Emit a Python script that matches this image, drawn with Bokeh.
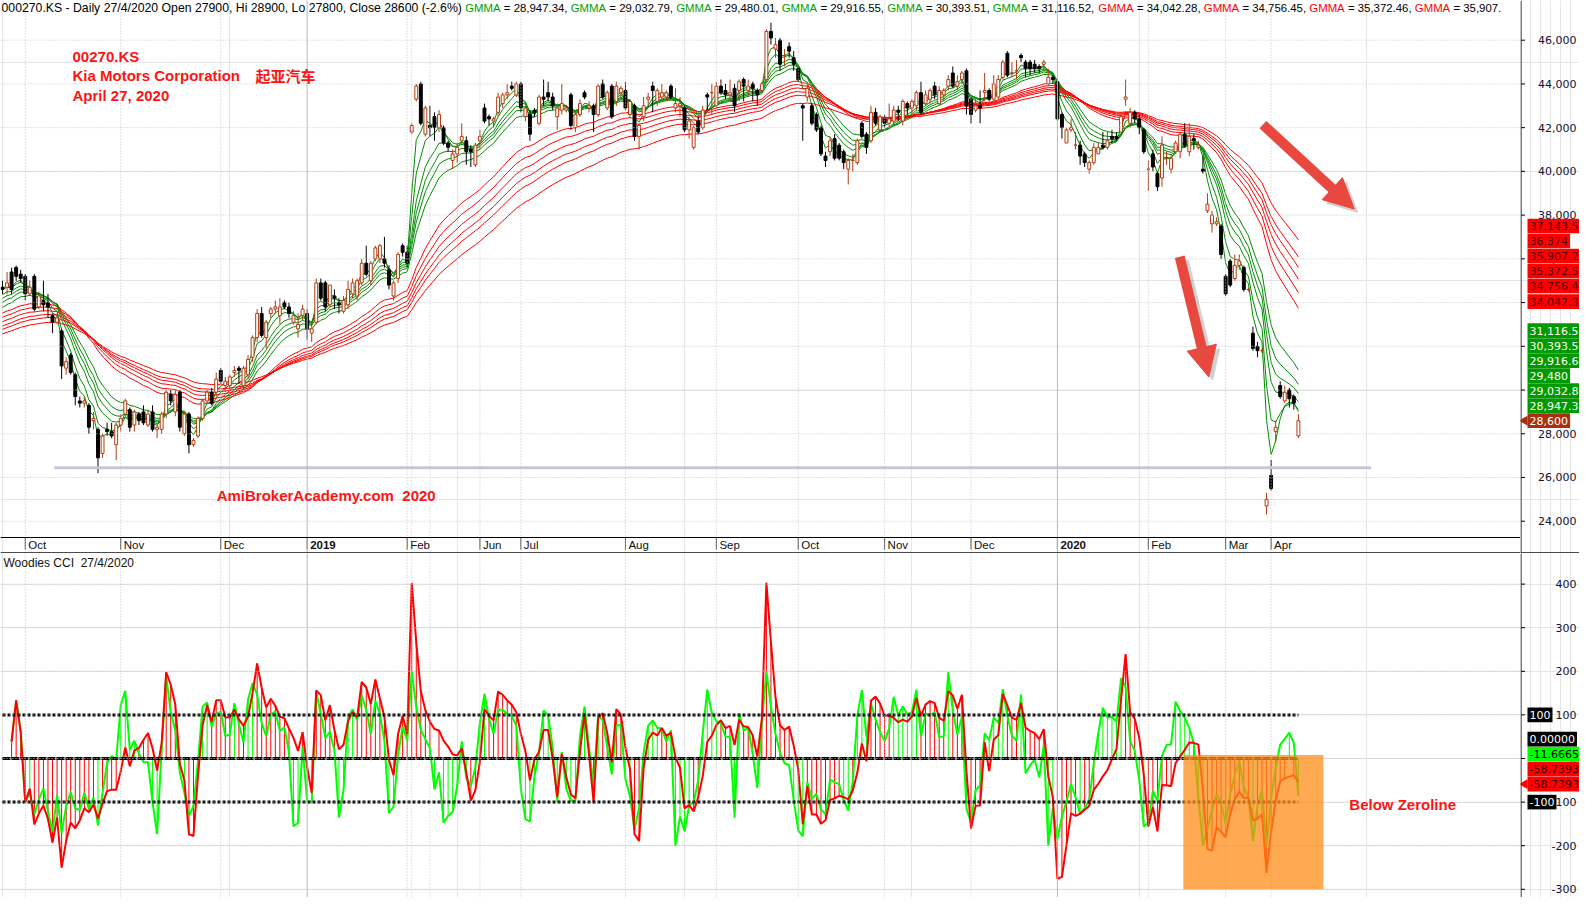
import numpy as np
from bokeh.plotting import figure
from bokeh.layouts import column, row
from bokeh.core.properties import value
from bokeh.models import (Range1d, Span, Label, BoxAnnotation, Arrow, NormalHead,
                          ColumnDataSource)
from bokeh.embed import file_html
from bokeh.resources import INLINE

# ---------------- data: daily OHLC of 000270.KS, in hundreds of KRW ----------------
opens = [347,347,354,356,353,352,344,352,338,341, 340,334,331,327,310,316,307,295,294,293,
         286,282,271,282,281,275,284,289,291,284, 289,290,284,290,282,282,289,298,290,299,
         280,289,275,279,287,295,299,299,309,302, 302,308,310,302,307,315,324,335,324,335,
         337,334,340,338,331,328,334,335,326,331, 349,349,339,343,340,336,339,344,343,349,
         358,350,360,360,360,355,343,351,366,363, 418,433,440,417,421,425,420,420,413,405,
         408,414,414,410,403,414,429,425,423,427, 431,435,439,435,440,425,426,428,422,434,
         436,434,425,428,428,435,420,426,436,429, 430,426,440,429,439,432,436,437,426,430,
         416,425,433,439,432,434,434,439,429,430, 429,419,411,423,420,435,436,430,439,437,
         435,438,437,442,437,440,437,437,442,464, 456,460,453,457,452,447,430,434,430,426,
         420,407,409,415,412,409,401,405,404,422, 417,414,427,419,424,422,423,428,423,431,
         429,430,436,431,433,439,431,435,439,445, 439,442,446,433,428,430,436,437,433,434,
         443,454,445,446,453,450,450,449,448,449, 440,443,441,426,413,419,412,412,408,401,
         404,408,412,411,416,416,418,433,422,427, 424,419,401,408,399,397,406,401,409,409,
         417,409,415,411,401,382,376,376,375,352, 359,351,357,356,346,326,320,318,247,261,
         281,302,295,300,297,279]
highs = [350,354,356,357,355,353,350,353,345,350, 344,335,335,328,315,317,308,297,297,294,
         290,283,280,285,285,285,289,296,292,291, 290,293,291,293,284,290,300,300,300,300,
         290,290,278,288,296,300,301,308,310,306, 307,311,311,311,316,325,337,338,332,338,
         341,342,341,340,336,335,339,337,331,351, 351,350,348,346,342,343,350,351,351,360,
         366,359,366,367,370,357,350,363,367,366, 422,440,441,430,430,427,428,421,414,410,
         413,422,416,412,413,419,431,426,425,436, 436,440,441,441,441,430,428,429,435,442,
         441,436,431,440,430,436,428,433,437,432, 431,440,442,437,440,441,439,441,433,431,
         422,434,436,441,438,440,437,440,438,434, 430,425,421,425,430,436,440,441,442,440,
         442,440,442,443,442,441,438,441,465,468, 461,461,456,459,455,448,431,440,431,427,
         421,409,416,417,413,410,406,408,415,423, 418,430,429,426,426,431,430,430,433,432,
         433,437,441,437,438,441,439,438,444,448, 444,446,447,434,433,437,445,438,444,444,
         451,455,450,451,454,451,451,451,449,451, 447,444,442,427,420,424,418,414,409,405,
         413,413,418,418,419,418,426,442,429,428, 426,420,405,410,400,416,409,408,414,418,
         422,422,417,414,407,390,382,379,376,353, 360,362,362,357,347,329,322,319,253,268,
         286,304,302,301,298,289]
lows = [344,344,344,350,349,341,343,336,337,336, 333,326,330,305,307,307,293,292,292,280,
        282,262,269,279,278,268,281,288,281,281, 284,284,283,281,278,280,287,293,288,281,
        279,271,274,278,286,294,293,297,303,299, 300,306,303,300,305,313,322,324,319,333,
        335,330,337,333,330,324,332,323,322,330, 341,336,338,337,335,335,337,342,341,348,
        352,348,359,358,356,346,341,349,361,356, 417,432,421,416,416,414,418,412,409,401,
        404,412,403,402,402,410,422,421,420,425, 429,433,437,434,427,423,414,425,421,430,
        432,428,419,426,427,419,418,425,433,427, 418,425,433,428,424,430,434,428,425,414,
        410,423,430,427,430,433,432,433,427,425, 418,415,410,417,419,428,426,429,435,433,
        432,427,432,432,434,432,430,436,441,458, 452,446,448,452,446,441,414,432,421,418,
        407,402,407,405,405,401,394,400,403,415, 408,413,421,418,420,420,421,423,421,426,
        426,428,426,430,431,433,430,432,437,438, 437,440,426,422,427,422,432,432,432,433,
        442,443,443,442,450,443,444,445,445,446, 439,440,423,415,413,418,410,403,402,399,
        403,408,410,410,413,414,418,430,420,422, 417,408,391,400,391,393,403,399,408,406,
        411,407,410,410,399,381,372,375,360,343, 347,350,355,345,345,318,315,317,243,254,
        276,296,294,292,291,278]
closes = [346,349,346,352,351,344,347,337,343,339, 338,331,333,311,313,308,297,294,295,283,
          287,269,279,281,279,284,287,295,283,290, 286,285,289,282,283,289,299,295,298,283,
          289,275,277,287,295,299,294,305,304,304, 306,309,309,310,314,324,335,325,331,337,
          338,338,338,335,334,330,337,328,328,349, 342,338,348,342,339,341,346,349,350,358,
          353,358,365,366,358,348,349,362,363,358, 421,439,422,429,420,420,426,413,411,408,
          411,416,409,409,412,416,423,424,424,434, 435,436,438,440,429,429,417,427,434,433,
          434,430,429,431,429,421,426,431,434,430, 426,439,434,436,425,439,438,429,432,416,
          421,430,434,437,437,436,436,434,431,431, 419,423,420,418,428,434,436,439,436,435,
          436,430,441,439,439,438,435,440,464,461, 458,449,453,455,449,442,429,438,422,419,
          408,405,414,406,406,404,405,405,414,416, 411,427,422,425,422,424,428,427,432,429,
          432,436,427,435,437,435,437,437,442,439, 441,445,430,426,430,429,437,433,440,442,
          450,444,445,446,452,447,447,447,447,450, 443,442,424,420,419,420,412,407,404,404,
          411,411,411,414,415,415,425,434,427,424, 420,409,401,402,393,412,406,406,413,417,
          412,416,414,412,400,385,380,377,362,344, 348,357,359,346,346,319,318,318,250,255,
          283,297,299,296,294,286]

month_names = ["Oct", "Nov", "Dec", "2019", "Feb", "Jun", "Jul", "Aug", "Sep",
               "Oct", "Nov", "Dec", "2020", "Feb", "Mar", "Apr"]
month_bars = [5, 26, 48, 67, 89, 105, 114, 137, 157, 175, 194, 213, 232, 252, 269, 279]
extra_grid_bars = [90, 94]

price_ticks = [24000, 26000, 28000, 30000, 32000, 34000, 36000, 38000, 40000, 42000,
               44000, 46000]
cci_ticks = [-300, -200, -100, 0, 100, 200, 300, 400]

gmma_periods = [3, 5, 8, 10, 12, 15, 30, 35, 40, 45, 50, 60]
gmma_seeds = [347, 346, 343, 341, 339, 336.5, 334.5, 332.5, 330.5, 328.5, 327, 325]
gmma_title_values = ["28,947.34", "29,032.79", "29,480.01", "29,916.55", "30,393.51",
                     "31,116.52", "34,042.28", "34,756.45", "35,372.46", "35,907."]
gmma_tag_values = [28947.34, 29032.79, 29480.01, 29916.55, 30393.51, 31116.52,
                   34042.28, 34756.45, 35372.46, 35907.2, 36374.0, 37143.5]
gmma_tag_texts = ["28,947.3", "29,032.8", "29,480", "29,916.6", "30,393.5", "31,116.5",
                  "34,042.3", "34,756.4", "35,372.5", "35,907.2", "36,374", "37,143.5"]
last_close = 28600
last_close_text = "28,600"

cci_tag_values = [-100, -58.7393, -58.7393, -11.6665, 0.0, 100]
cci_tag_texts = ["-100", "-58.7393", "-58.7393", "-11.6665", "0.00000", "100"]

support_level = 26450
support_from, support_to = 11.4, 301.0
arrow_specs = [(277.2, 42140, 297.3, 38280), (258.9, 36094, 265.3, 30600)]
box_left, box_right, box_bottom, box_top = 259.7, 290.5, -300, 8
note_x, note_y = 296.2, -105

# ---------------- derived series ----------------
o = np.array(opens, float) * 100
h = np.array(highs, float) * 100
l = np.array(lows, float) * 100
c = np.array(closes, float) * 100
N = len(c)
idx = np.arange(N)


def ema(vals, n, seed):
    k = 2.0 / (n + 1)
    out, prev = [], seed
    for v in vals:
        prev = prev + k * (v - prev)
        out.append(prev)
    return np.array(out)


def cci(tp, n):
    out = np.full(len(tp), np.nan)
    for i in range(len(tp)):
        w = tp[max(0, i - n + 1):i + 1]
        if len(w) < 3:
            continue
        m = w.mean()
        md = np.abs(w - m).mean()
        if md > 0:
            out[i] = (tp[i] - m) / (0.015 * md)
    return out


gmma = [ema(c, n, s * 100) for n, s in zip(gmma_periods, gmma_seeds)]
tp = (h + l + c) / 3.0
cci14 = cci(tp, 14)
cci6 = cci(tp, 6)
a14 = np.nan_to_num(cci14)
a6 = np.nan_to_num(cci6)
use6 = np.abs(a6) > np.abs(a14)
hist = np.where(use6, a6, a14)
hist_col = np.where(use6, "#00ff00", "#ff0000").tolist()

# ---------------- geometry ----------------
REF_BAR_PX = 4.547
FW = 1520
QW = 59
X0 = -2 / REF_BAR_PX
X1 = X0 + FW / REF_BAR_PX
PX_PER_WON = 0.021864
H1 = 553
Y_TOP = 46000 + 39.7 / PX_PER_WON
Y_BOT = Y_TOP - H1 / PX_PER_WON
H2 = 344
PX_PER_CCI = 0.436
C_TOP = 205.0 / PX_PER_CCI
C_BOT = C_TOP - H2 / PX_PER_CCI


def price_at(py):
    return Y_TOP - py / PX_PER_WON


xr = Range1d(X0, X1)
common = dict(output_backend="svg", toolbar_location=None, x_axis_location=None,
              y_axis_location=None, min_border_left=0, min_border_right=0,
              min_border_top=0, min_border_bottom=0, outline_line_color=None,
              background_fill_color="white", border_fill_color="white")
GRID = "#c4c4c4"


def add_grids(p, yticks):
    for t in yticks:
        p.add_layout(Span(location=t, dimension="width", line_color=GRID, line_width=1,
                          line_dash="1 2"))
    for name, b in zip(month_names, month_bars):
        if name in ("2019", "2020"):
            p.add_layout(Span(location=b, dimension="height", line_color="#b8b8b8", line_width=1))
        else:
            p.add_layout(Span(location=b, dimension="height", line_color=GRID,
                              line_width=1, line_dash="1 2"))
    for b in extra_grid_bars:
        p.add_layout(Span(location=b, dimension="height", line_color=GRID,
                          line_width=1, line_dash="1 2"))


# ================= price panel =================
p1 = figure(frame_width=FW, frame_height=H1, x_range=xr, y_range=Range1d(Y_BOT, Y_TOP), **common)
add_grids(p1, price_ticks)

for k, series in enumerate(gmma):
    p1.line(idx, series, line_color="#008c00" if k < 6 else "#ff0000", line_width=1)

UP = "#b33a0e"
inc = c >= o
src = ColumnDataSource(dict(x=idx, h=h, l=l, top=np.maximum(o, c), bot=np.minimum(o, c),
                            wick=np.where(inc, UP, "black").tolist(),
                            fill=np.where(inc, "white", "black").tolist()))
p1.segment(x0="x", y0="l", x1="x", y1="h", line_color="wick", line_width=1, source=src)
p1.vbar(x="x", width=0.64, top="top", bottom="bot", fill_color="fill", line_color="wick",
        line_width=1, source=src)

p1.line([support_from, support_to], [support_level, support_level], line_color="#c9c4da",
        line_width=3)

for (xs, ys, xe, ye) in arrow_specs:
    dx, dy = 0.9, -4 / PX_PER_WON
    p1.add_layout(Arrow(x_start=xs + dx, y_start=ys + dy, x_end=xe + dx, y_end=ye + dy,
                        line_color="#000000", line_alpha=0.18, line_width=10,
                        end=NormalHead(size=30, fill_color="#000000", fill_alpha=0.18,
                                       line_color=None)))
    p1.add_layout(Arrow(x_start=xs, y_start=ys, x_end=xe, y_end=ye,
                        line_color="#e8483e", line_width=10,
                        end=NormalHead(size=30, fill_color="#e8483e", line_color="#e8483e")))

axis_y = price_at(537)
sep_y = price_at(552.3)
p1.add_layout(Span(location=axis_y, dimension="width", line_color="black", line_width=1))
p1.add_layout(Span(location=sep_y, dimension="width", line_color="black", line_width=1))
p1.segment(x0=month_bars, y0=[axis_y] * len(month_bars), x1=month_bars,
           y1=[price_at(549)] * len(month_bars), line_color="#444444", line_width=1)
for name, b in zip(month_names, month_bars):
    p1.add_layout(Label(x=b, y=price_at(544.5), x_offset=3, text=name, text_baseline="middle",
                        text_font="Liberation Sans", text_font_size="11.5px",
                        text_color="#111111",
                        text_font_style="bold" if name in ("2019", "2020") else "normal"))

ARIAL = {' ': 278, '%': 889, '(': 333, ')': 333, ',': 278, '-': 333, '.': 278, '/': 278,
         '=': 584, 'A': 667, 'C': 722, 'D': 722, 'G': 778, 'H': 722, 'K': 667, 'L': 556,
         'M': 833, 'O': 778, 'S': 667, 'a': 556, 'e': 556, 'i': 222, 'l': 222, 'n': 556,
         'o': 556, 'p': 556, 's': 500, 'y': 500}
HEAD_SIZE = 12.25
TITLE_SIZE = 11.4


def tw(s, size):
    return sum(ARIAL.get(ch, 556) for ch in s) * size / 1000.0


segs = [("000270.KS - Daily 27/4/2020 Open 27900, Hi 28900, Lo 27800, Close 28600 (-2.6%) ",
         "black", HEAD_SIZE)]
for k, v in enumerate(gmma_title_values):
    segs.append(("GMMA", "#00a000" if k < 6 else "#ff0000", TITLE_SIZE))
    tail = " = " + v + (", " if k < len(gmma_title_values) - 1 else "")
    segs.append((tail, "black", TITLE_SIZE))
cur = 1.0
ty = price_at(7.5)
for text, col, fs in segs:
    lead = len(text) - len(text.lstrip(" "))
    cur += tw(" " * lead, fs)
    core = text.strip(" ")
    p1.add_layout(Label(x=X0, y=ty, x_offset=cur, text=core, text_baseline="middle",
                        text_font="Liberation Sans", text_font_size=f"{fs}px",
                        text_color=col))
    cur += tw(text.lstrip(" "), fs)

RED = "#ff1414"
info_x = 15.4
for txt, py in [("00270.KS", 56), ("Kia Motors Corporation", 75), ("April 27, 2020", 95)]:
    p1.add_layout(Label(x=info_x, y=price_at(py), text=txt, text_baseline="middle",
                        text_font="Liberation Sans", text_font_size="15px",
                        text_font_style="bold", text_color=RED))
p1.add_layout(Label(x=info_x, y=price_at(75), x_offset=183, text="起亚汽车",
                    text_baseline="middle", text_font="Noto Sans CJK SC",
                    text_font_size="15px", text_font_style="bold", text_color=RED))
p1.add_layout(Label(x=47.1, y=price_at(495), text="AmiBrokerAcademy.com\u00a0\u00a02020",
                    text_baseline="middle", text_font="Liberation Sans", text_font_size="15px",
                    text_font_style="bold", text_color=RED))

# ================= CCI panel =================
p2 = figure(frame_width=FW, frame_height=H2, x_range=xr, y_range=Range1d(C_BOT, C_TOP), **common)
add_grids(p2, cci_ticks)

p2.segment(x0=idx, y0=np.zeros(N), x1=idx, y1=hist, line_color=hist_col, line_width=1)
p2.line(idx, cci6, line_color="#00ff00", line_width=2)
p2.line(idx, cci14, line_color="#ff0000", line_width=2)
for lvl, dash in [(100, "3 2"), (-100, "3 2"), (0, "8 1")]:
    p2.line([idx[0], idx[-1]], [lvl, lvl], line_color="black", line_width=3, line_dash=dash)

p2.add_layout(BoxAnnotation(left=box_left, right=box_right, bottom=box_bottom, top=box_top,
                            fill_color="#ff8c1a", fill_alpha=0.75, line_color=None))
p2.add_layout(Label(x=note_x, y=note_y, text="Below Zeroline",
                    text_baseline="middle", text_font="Liberation Sans", text_font_size="15px",
                    text_font_style="bold", text_color=RED))
p2.add_layout(Label(x=X0, y=C_TOP - 9 / PX_PER_CCI, x_offset=3,
                    text="Woodies CCI\u00a0\u00a027/4/2020", text_baseline="middle",
                    text_font="Liberation Sans", text_font_size="12px", text_color="#111111"))


# ================= right-hand value scales with tags =================
def stack(vals, gap):
    order = sorted(range(len(vals)), key=lambda j: vals[j])
    pos, last = [0] * len(vals), -1e18
    for j in order:
        pos[j] = max(vals[j], last + gap)
        last = pos[j]
    return pos


def dv_width(s, size=11):
    w = {',': 0.318, '.': 0.318, '-': 0.361}
    return sum(w.get(ch, 0.636) for ch in s) * size


def side_panel(yr, hgt, lo, hi, ticks, tick_txt, px_per_unit, tag_vals, tag_txts, tag_bg,
               tag_fg, arrow_j, sep=None):
    q = figure(frame_width=QW, frame_height=hgt, x_range=Range1d(0, QW), y_range=yr, **common)
    q.segment(x0=[0.5], y0=[lo], x1=[0.5], y1=[hi], line_color="black", line_width=1)
    q.segment(x0=[0.5] * len(ticks), y0=ticks, x1=[4.5] * len(ticks), y1=ticks,
              line_color="black", line_width=1)
    q.text(x=[56] * len(ticks), y=ticks, text=tick_txt, text_align="right",
           text_baseline="middle", text_font=value("DejaVu Sans"), text_font_size="11px",
           text_color="#111133")
    pos = stack(tag_vals, 15.0 / px_per_unit)
    half = 7.3 / px_per_unit
    rights = [7 + dv_width(t) + 4 for t in tag_txts]
    q.quad(left=[7] * len(pos), right=rights, bottom=[p - half for p in pos],
           top=[p + half for p in pos], fill_color=tag_bg, line_color=None)
    q.text(x=[9] * len(pos), y=pos, text=tag_txts, text_align="left", text_baseline="middle",
           text_font=value("DejaVu Sans"), text_font_size="11px", text_color=tag_fg)
    q.scatter(x=[4.2], y=[pos[arrow_j]], marker="triangle", angle=np.pi / 2, size=10,
              fill_color=tag_bg[arrow_j], line_color=None)
    if sep is not None:
        q.add_layout(Span(location=sep, dimension="width", line_color="black", line_width=1))
    return q


q1 = side_panel(p1.y_range, H1, Y_BOT, Y_TOP, price_ticks, [f"{t:,}" for t in price_ticks],
                PX_PER_WON, [last_close] + gmma_tag_values, [last_close_text] + gmma_tag_texts,
                ["#a8300c"] + ["#009a00"] * 6 + ["#ff0000"] * 6,
                ["white"] + ["white"] * 6 + ["#5a0000"] * 6, 0, sep=sep_y)
q2 = side_panel(p2.y_range, H2, C_BOT, C_TOP, cci_ticks, [str(t) for t in cci_ticks],
                PX_PER_CCI, cci_tag_values, cci_tag_texts,
                ["black", "#ff0000", "#ff0000", "#00ff00", "black", "black"],
                ["white", "#4a0000", "#4a0000", "black", "white", "white"], 1)

layout = row(column(p1, p2, spacing=0), column(q1, q2, spacing=0), spacing=0)
open("out.html", "w").write(file_html(layout, INLINE))
